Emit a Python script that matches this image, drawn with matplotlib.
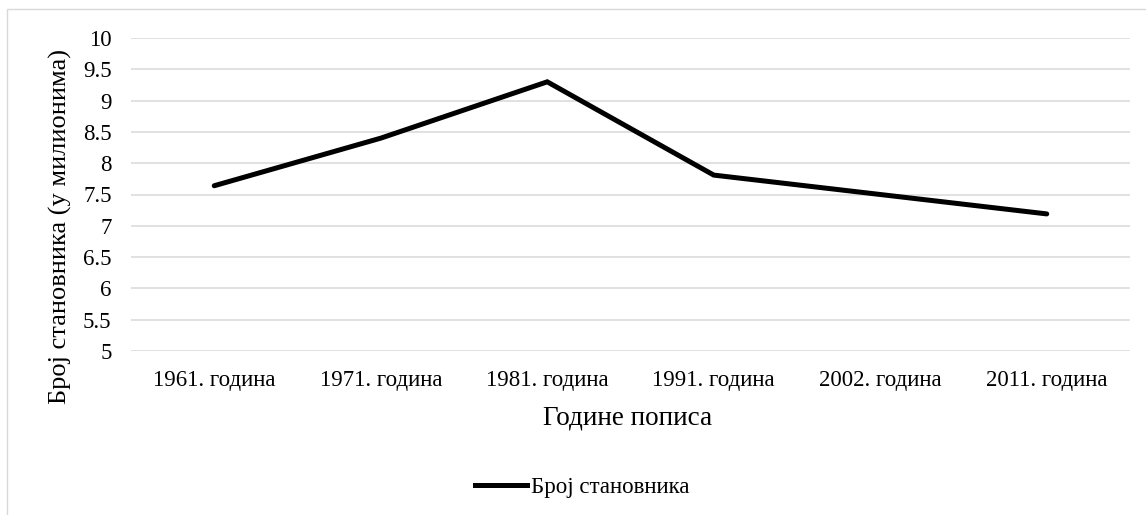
import matplotlib.pyplot as plt
from matplotlib.patches import Rectangle
from matplotlib.lines import Line2D

plt.rcParams['font.family'] = ['Liberation Serif', 'DejaVu Serif']

# Подаци
years = ['1961. година', '1971. година', '1981. година',
         '1991. година', '2002. година', '2011. година']
population = [7.64, 8.40, 9.30, 7.81, 7.50, 7.19]
y_ticks = [5, 5.5, 6, 6.5, 7, 7.5, 8, 8.5, 9, 9.5, 10]
y_tick_labels = ['5', '5.5', '6', '6.5', '7', '7.5', '8', '8.5', '9', '9.5', '10']

W, H = 1146, 515
fig = plt.figure(figsize=(W / 100, H / 100), dpi=100)

# Оквир графикона
fig.patches.append(Rectangle((7 / W, -0.01), 1.2, 1 - 9 / H + 0.01,
                             transform=fig.transFigure, fill=False,
                             edgecolor='#d9d9d9', linewidth=1))

ax = fig.add_axes([131 / W, 1 - 351 / H, (1130 - 131) / W, (351 - 38) / H])
x = list(range(len(years)))
ax.plot(x, population, color='black', linewidth=3.6, solid_capstyle='round',
        solid_joinstyle='miter', zorder=3)

ax.set_xlim(-0.5, len(years) - 0.5)
ax.set_ylim(5, 10)
ax.set_yticks(y_ticks)
ax.set_yticklabels(y_tick_labels, fontsize=16.5)
ax.set_xticks(x)
ax.set_xticklabels(years, fontsize=16.5)
ax.tick_params(length=0)
ax.tick_params(axis='x', pad=14)
ax.tick_params(axis='y', pad=14)
ax.grid(axis='y', color='#d9d9d9', linewidth=1.1)
ax.set_axisbelow(True)
for s in ax.spines.values():
    s.set_visible(False)

fig.text(628 / W, 1 - 425 / H, 'Године пописа', fontsize=19.5,
         ha='center', va='baseline')
fig.text(60 / W, 1 - 226 / H, 'Број становника (у милионима)', fontsize=19,
         rotation=90, ha='center', va='center')

# Легенда
handle = Line2D([], [], color='black', linewidth=3.6)
fig.legend([handle], ['Број становника'], loc='center',
           bbox_to_anchor=(582 / W, 1 - 487 / H), frameon=False,
           fontsize=16.5, handlelength=2.3, handletextpad=0.15)

fig.savefig('out.png', dpi=100)
